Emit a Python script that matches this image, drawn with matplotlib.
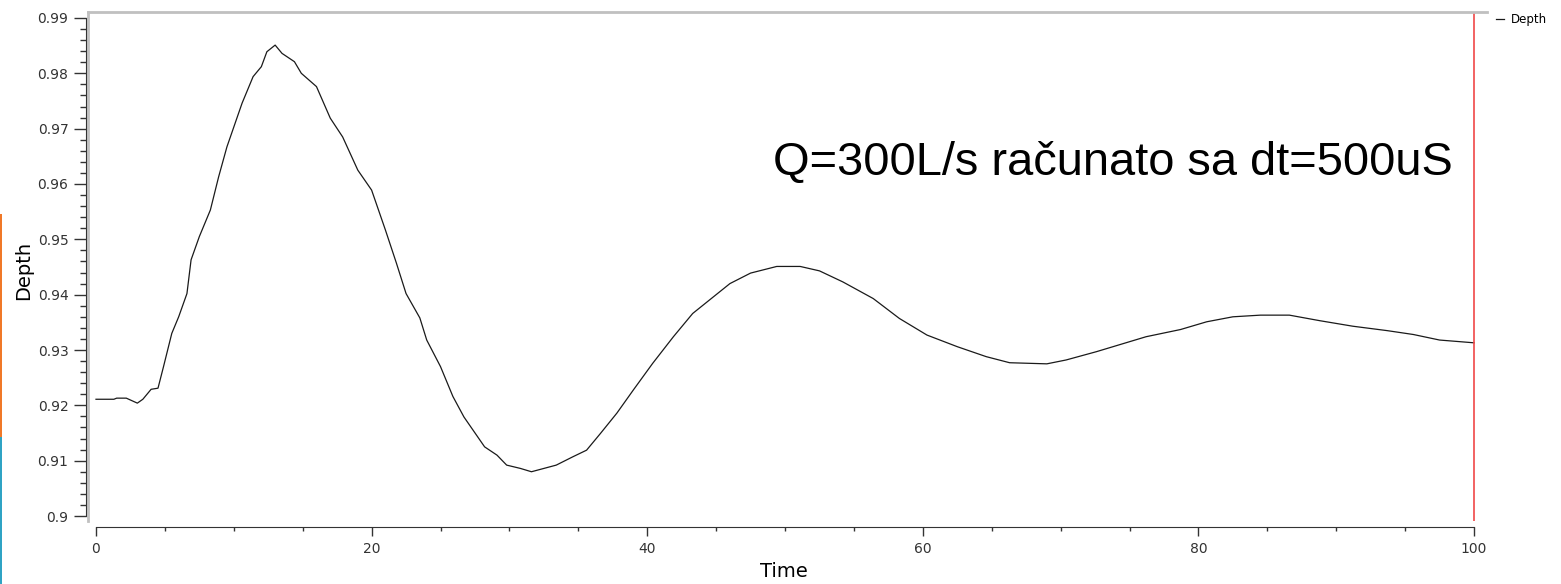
import matplotlib
matplotlib.use("Agg")
import matplotlib.pyplot as plt
from matplotlib.ticker import MultipleLocator, FuncFormatter
from matplotlib.patches import Rectangle

# Vrijeme (s) i dubina (m) ocitani sa grafika
time = [0, 1.3, 1.5, 2.2, 3.0, 3.4, 4.0, 4.5, 4.9, 5.5,
        6.0, 6.6, 6.9, 7.5, 8.3, 8.9, 9.5, 10.6, 11.4, 12.0,
        12.4, 13.0, 13.5, 14.4, 14.9, 16.0, 17.0, 17.9, 19.0, 20.0,
        21.0, 21.8, 22.5, 23.5, 24.0, 25.0, 25.9, 26.7, 28.2, 29.1,
        29.8, 30.8, 31.6, 32.5, 33.4, 34.6, 35.6, 36.6, 37.8, 39.0,
        40.4, 41.9, 43.3, 44.8, 46.0, 47.5, 49.4, 51.1, 52.5, 54.2,
        56.4, 58.3, 60.3, 62.5, 64.6, 66.3, 69.0, 70.4, 72.6, 73.8,
        76.2, 78.7, 80.6, 82.5, 84.5, 86.6, 88.8, 91.2, 93.7, 95.6,
        97.5, 100.0]
depth = [0.9211, 0.9211, 0.9213, 0.9213, 0.9204, 0.9211, 0.9229, 0.9231, 0.9270, 0.9330,
         0.9360, 0.9402, 0.9463, 0.9505, 0.9553, 0.9613, 0.9667, 0.9746, 0.9794, 0.9812,
         0.9839, 0.9851, 0.9836, 0.9821, 0.9800, 0.9776, 0.9719, 0.9685, 0.9625, 0.9589,
         0.9517, 0.9457, 0.9402, 0.9358, 0.9318, 0.9270, 0.9216, 0.9179, 0.9125, 0.9110,
         0.9092, 0.9086, 0.9080, 0.9086, 0.9092, 0.9107, 0.9119, 0.9149, 0.9186, 0.9228,
         0.9276, 0.9324, 0.9366, 0.9396, 0.9420, 0.9439, 0.9451, 0.9451, 0.9443, 0.9423,
         0.9393, 0.9357, 0.9327, 0.9306, 0.9288, 0.9277, 0.9275, 0.9282, 0.9297, 0.9306,
         0.9324, 0.9337, 0.9351, 0.9360, 0.9363, 0.9363, 0.9353, 0.9343, 0.9335, 0.9328,
         0.9318, 0.9313]

annotation = "Q=300L/s računato sa dt=500uS"

W, H = 1561, 584
fig = plt.figure(figsize=(W / 100, H / 100), dpi=100)
ax = fig.add_axes([88 / W, 1 - 521 / H, 1399 / W, 509 / H])

line, = ax.plot(time, depth, color="#1a1a1a", lw=0.9, label="Depth")
ax.axvline(100, color="#f04848", lw=1.2)  # crvena linija na kraju simulacije

ax.set_xlim(-0.58, 100.94)
ax.set_ylim(0.8991, 0.99108)

# okvir: gornja i lijeva siva linija
ax.spines["right"].set_visible(False)
ax.spines["top"].set_color("#c0c0c0")
ax.spines["top"].set_linewidth(2)
ax.plot([0, 0], [0, 1], transform=ax.transAxes, color="#c0c0c0", lw=2, clip_on=False)

# ose sa podjelama
ax.spines["left"].set_position(("outward", 1.5))
ax.spines["left"].set_bounds(0.9, 0.99)
ax.spines["left"].set_color("#333333")
ax.spines["bottom"].set_position(("outward", 4.5))
ax.spines["bottom"].set_bounds(0, 100)
ax.spines["bottom"].set_color("#333333")

ax.xaxis.set_major_locator(MultipleLocator(20))
ax.xaxis.set_minor_locator(MultipleLocator(5))
ax.yaxis.set_major_locator(MultipleLocator(0.01))
ax.yaxis.set_minor_locator(MultipleLocator(0.002))
ax.xaxis.set_major_formatter(FuncFormatter(lambda v, p: f"{v:g}"))
ax.yaxis.set_major_formatter(FuncFormatter(lambda v, p: f"{v:g}"))

ax.tick_params(axis="y", which="major", length=8.6, width=1, color="#333333",
               labelsize=10, labelcolor="#333333", pad=4)
ax.tick_params(axis="y", which="minor", length=4.3, width=1, color="#333333")
ax.tick_params(axis="x", which="major", length=6.5, width=1, color="#333333",
               labelsize=10, labelcolor="#333333", pad=4)
ax.tick_params(axis="x", which="minor", length=3.2, width=1, color="#333333")

ax.set_ylabel("Depth", fontsize=14)
ax.set_xlabel("Time", fontsize=14)
ax.yaxis.set_label_coords(-0.039, 0.493)
ax.xaxis.set_label_coords(0.4975, -0.08)

# natpis
fig.text(773 / W, 1 - 175 / H, annotation, fontsize=33.8, family="Liberation Sans",
         ha="left", va="baseline", color="black")

# legenda gore desno
fig.legend(handles=[line], loc="upper left", bbox_to_anchor=(1496 / W, 1 - 13 / H),
           frameon=False, fontsize=8.5, handlelength=0.7, handletextpad=0.6,
           borderpad=0, borderaxespad=0)

# obojene trake na lijevoj ivici
fig.patches.append(Rectangle((0, 1 - 437 / H), 1.5 / W, 223 / H, transform=fig.transFigure,
                             color="#f07828", lw=0))
fig.patches.append(Rectangle((0, 0), 1.5 / W, 147 / H, transform=fig.transFigure,
                             color="#2fa3c4", lw=0))

fig.savefig("out.png", dpi=100)
